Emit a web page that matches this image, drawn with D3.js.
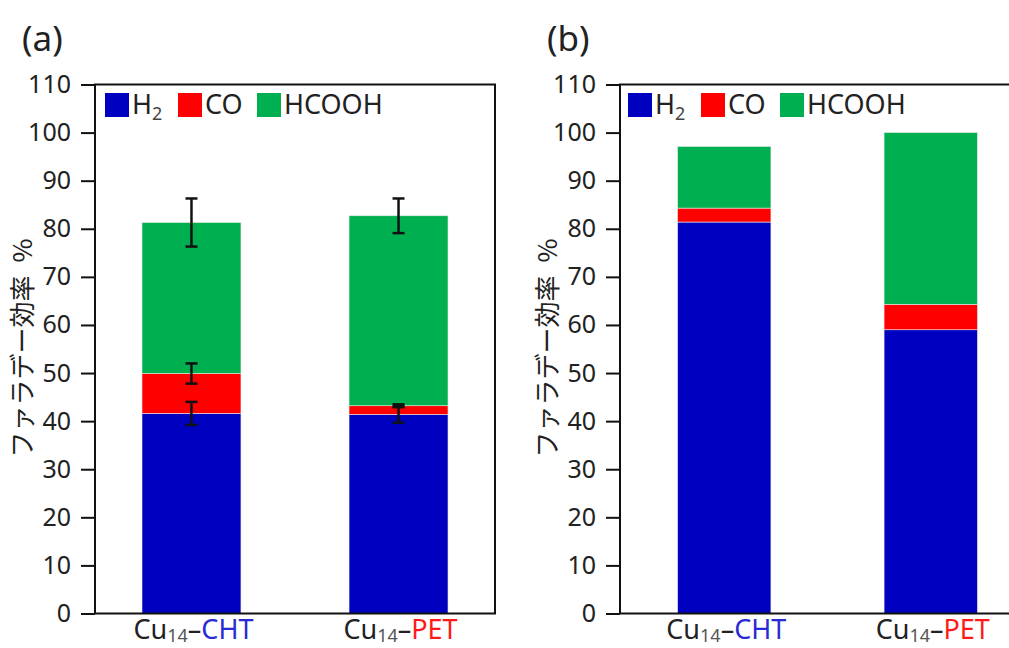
<!DOCTYPE html>
<html>
<head>
<meta charset="utf-8">
<script src="https://cdn.jsdelivr.net/npm/d3@7"></script>
<style>
  body { margin: 0; background: #fff; }
  svg { display: block; }
  text { font-family: "Noto Sans", "Noto Sans CJK JP", sans-serif; fill: #222; }
</style>
</head>
<body>
<div id="chart"></div>
<script>
// 積み上げ棒グラフ (a) と (b)

const categories = ["CHT", "PET"];
const categoryColors = ["#2a2ad4", "#ff1a1a"];
const seriesNames = ["H2", "CO", "HCOOH"];
const seriesColors = ["#0000c0", "#ff0000", "#00b050"];
const yTicks = [0, 10, 20, 30, 40, 50, 60, 70, 80, 90, 100, 110];

// (a)
const h2A = [41.6, 41.4];
const coA = [8.3, 1.8];
const hcoohA = [31.4, 39.5];
const h2ErrA = [2.4, 1.7];
const coErrA = [2.1, 0.3];
const hcoohErrA = [5.0, 3.6];

// (b)
const h2B = [81.4, 59.0];
const coB = [2.9, 5.3];
const hcoohB = [12.8, 35.7];

const width = 1009, height = 648;
const svg = d3.select("#chart").append("svg")
    .attr("width", width)
    .attr("height", height);

const y = d3.scaleLinear().domain([0, 110]).range([613.5, 84.5]);

function drawPanel(opts) {
    const g = svg.append("g");
    const x = d3.scaleBand()
        .domain(categories)
        .range([opts.left, opts.right])
        .paddingInner(opts.padInner)
        .paddingOuter(opts.padOuter);

    const rows = categories.map((c, i) => ({
        cat: c, H2: opts.h2[i], CO: opts.co[i], HCOOH: opts.hcooh[i]
    }));
    const stacked = d3.stack().keys(seriesNames)(rows);

    // bars
    g.selectAll("g.layer")
        .data(stacked)
        .enter().append("g")
        .attr("class", "layer")
        .attr("fill", (d, i) => seriesColors[i])
        .selectAll("rect")
        .data(d => d)
        .enter().append("rect")
        .attr("x", d => x(d.data.cat))
        .attr("y", d => y(d[1]))
        .attr("width", x.bandwidth())
        .attr("height", d => y(d[0]) - y(d[1]))
        .attr("stroke", "#e8e8e8")
        .attr("stroke-width", 0.6);

    // error bars
    if (opts.errs) {
        stacked.forEach((layer, li) => {
            const errs = opts.errs[li];
            layer.forEach((d, i) => {
                const cx = x(d.data.cat) + x.bandwidth() / 2;
                const v = d[1], e = errs[i];
                g.append("line")
                    .attr("x1", cx).attr("x2", cx)
                    .attr("y1", y(v + e)).attr("y2", y(v - e))
                    .attr("stroke", "#111").attr("stroke-width", 2.5);
                [v + e, v - e].forEach(t => {
                    g.append("line")
                        .attr("x1", cx - 6).attr("x2", cx + 6)
                        .attr("y1", y(t)).attr("y2", y(t))
                        .attr("stroke", "#111").attr("stroke-width", 2.5);
                });
            });
        });
    }

    // frame
    g.append("rect")
        .attr("x", opts.left).attr("y", y(110))
        .attr("width", opts.right - opts.left)
        .attr("height", y(0) - y(110))
        .attr("fill", "none")
        .attr("stroke", "#111")
        .attr("stroke-width", 2);

    // y axis
    const yAxis = g.append("g")
        .attr("transform", `translate(${opts.left},0)`)
        .call(d3.axisLeft(y).tickValues(yTicks).tickSize(14).tickPadding(10).tickSizeOuter(0));
    yAxis.select(".domain").remove();
    yAxis.selectAll(".tick line").attr("stroke", "#111").attr("stroke-width", 2);
    yAxis.selectAll(".tick text")
        .attr("font-size", 25)
        .attr("fill", "#333")
        .style("font-family", "'Noto Sans', sans-serif");

    // x labels
    categories.forEach((c, i) => {
        const t = g.append("text")
            .attr("x", x(c) + x.bandwidth() / 2 + 2)
            .attr("y", 639)
            .attr("text-anchor", "middle")
            .attr("font-size", 27);
        t.append("tspan").attr("fill", "#222").text("Cu");
        t.append("tspan").attr("fill", "#555").attr("font-size", 18).attr("dy", 3).text("14");
        t.append("tspan").attr("fill", "#222").attr("dy", -3).text("–");
        t.append("tspan").attr("fill", categoryColors[i]).text(c);
    });

    // legend
    const legX = [0, 73, 152];
    seriesNames.forEach((s, i) => {
        const lx = opts.left + opts.legendOffset + legX[i];
        g.append("rect")
            .attr("x", lx).attr("y", 93)
            .attr("width", 24).attr("height", 24)
            .attr("fill", seriesColors[i]);
        const t = g.append("text")
            .attr("x", lx + 27).attr("y", 114)
            .attr("font-size", 27);
        if (s === "H2") {
            t.append("tspan").text("H");
            t.append("tspan").attr("font-size", 18).attr("dy", 6).attr("fill", "#444").text("2");
        } else {
            t.text(s);
        }
    });

    // y axis title
    svg.append("text")
        .attr("transform", `translate(${opts.left - 63},${348}) rotate(-90)`)
        .attr("text-anchor", "middle")
        .attr("font-size", 26)
        .style("font-family", "'Noto Sans CJK JP', sans-serif")
        .text("ファラデー効率\u2002%");

    // panel label
    svg.append("text")
        .attr("x", opts.left - 73)
        .attr("y", 51)
        .attr("font-size", 35)
        .text(opts.label);
}

drawPanel({
    label: "(a)", left: 95, right: 495,
    padInner: 0.522, padOuter: 0.227, legendOffset: 10,
    h2: h2A, co: coA, hcooh: hcoohA,
    errs: [h2ErrA, coErrA, hcoohErrA]
});

drawPanel({
    label: "(b)", left: 620, right: 1035,
    padInner: 0.548, padOuter: 0.279, legendOffset: 8,
    h2: h2B, co: coB, hcooh: hcoohB
});
</script>
</body>
</html>
